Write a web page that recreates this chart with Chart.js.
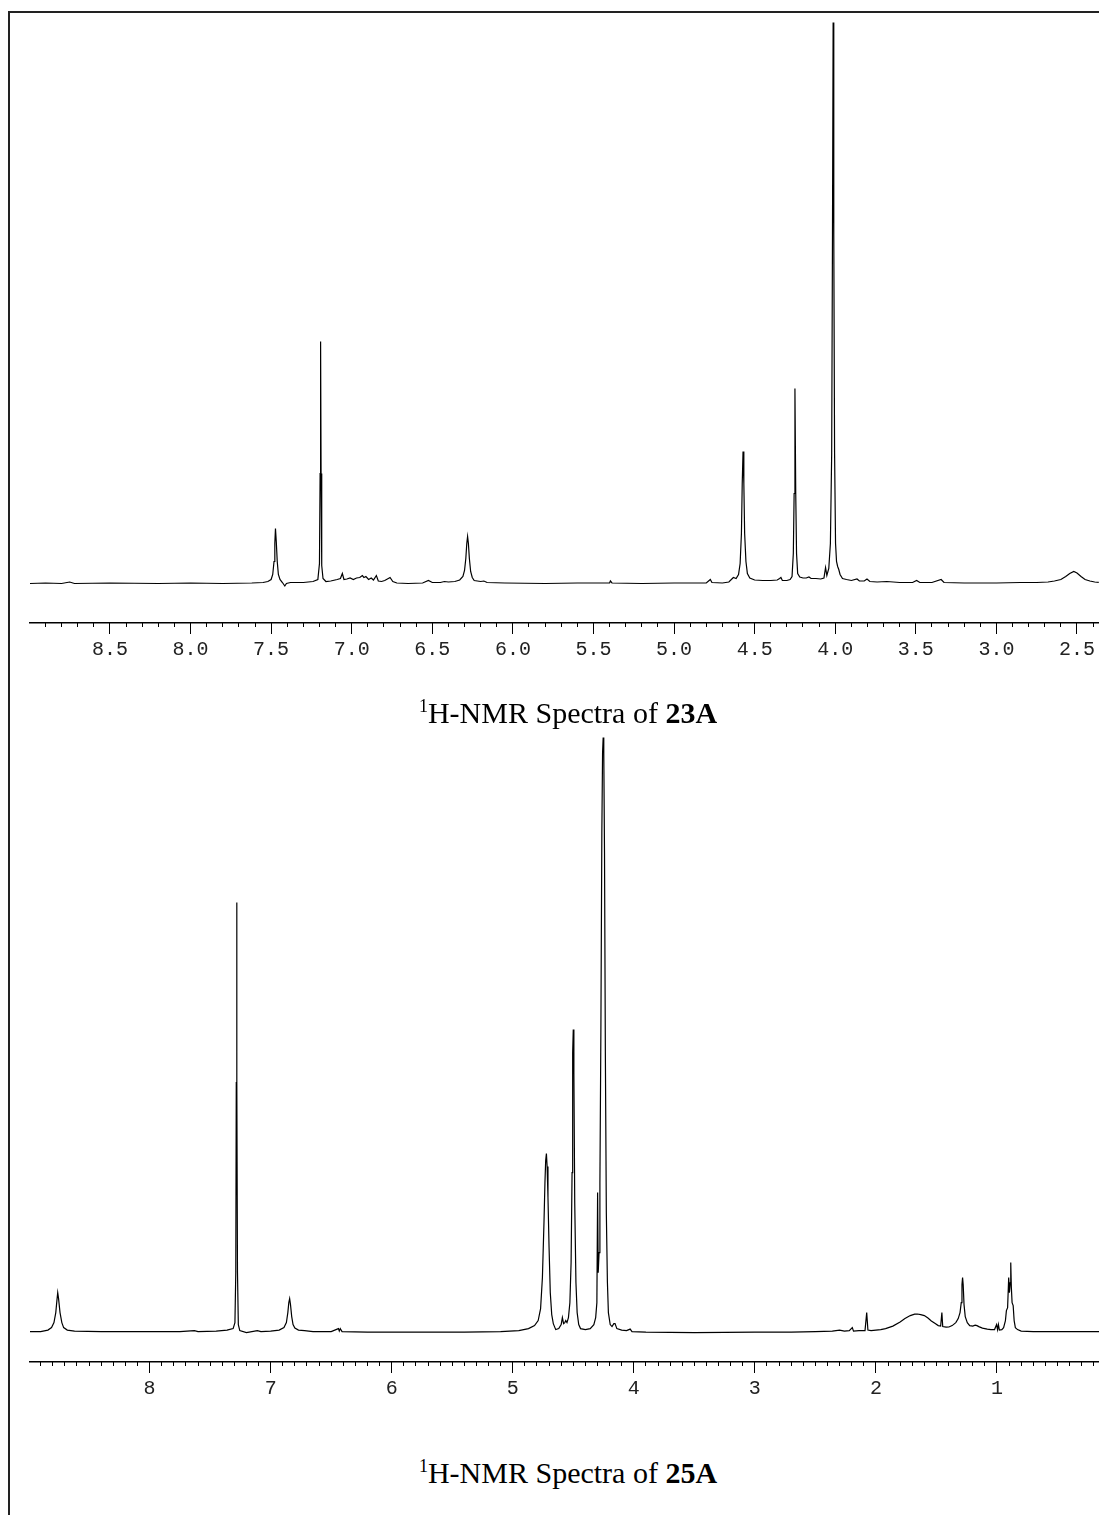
<!DOCTYPE html>
<html>
<head>
<meta charset="utf-8">
<script src="https://cdn.jsdelivr.net/npm/chart.js@4.4.1/dist/chart.umd.min.js"></script>
<style>
  html, body { margin: 0; padding: 0; background: #fff; }
  body { width: 1099px; height: 1515px; position: relative; overflow: hidden; }
  .frame { position: absolute; left: 8px; top: 11px; width: 1200px; height: 1600px;
           border-left: 2px solid #222; border-top: 2px solid #222; }
  canvas { position: absolute; left: 0; }
  .title { position: absolute; left: 0; width: 1136px; text-align: center;
           font-family: "Liberation Serif", "Times New Roman", serif; font-size: 30px;
           line-height: 30px; color: #000; white-space: nowrap; }
  .title sup { font-size: 18px; line-height: 0; vertical-align: 11px; }
</style>
</head>
<body>
<div class="frame"></div>
<canvas id="spec1" width="1099" height="700" style="top:0"></canvas>
<canvas id="spec2" width="1099" height="705" style="top:725px"></canvas>
<div class="title" style="top:698px"><sup>1</sup>H-NMR Spectra of <b>23A</b></div>
<div class="title" style="top:1458px"><sup>1</sup>H-NMR Spectra of <b>25A</b></div>
<script>
// spectrum of 23A: chemical shift (ppm) / height above baseline
const spec1Shift = [9.00, 8.90, 8.80, 8.75, 8.72, 8.50, 8.20, 8.00, 7.80, 7.62, 7.55, 7.52, 7.50, 7.49, 7.482, 7.477, 7.473, 7.468, 7.462, 7.455, 7.445, 7.43, 7.415, 7.405, 7.38, 7.30, 7.24, 7.21, 7.200, 7.196, 7.193, 7.190, 7.186, 7.178, 7.16, 7.13, 7.09, 7.07, 7.058, 7.048, 7.03, 7.01, 6.99, 6.97, 6.95, 6.934, 6.924, 6.912, 6.895, 6.879, 6.865, 6.847, 6.835, 6.815, 6.795, 6.762, 6.745, 6.72, 6.65, 6.56, 6.524, 6.50, 6.45, 6.425, 6.40, 6.36, 6.33, 6.31, 6.300, 6.292, 6.286, 6.281, 6.276, 6.270, 6.262, 6.252, 6.24, 6.20, 6.18, 6.16, 6.05, 5.80, 5.60, 5.40, 5.395, 5.385, 5.20, 5.00, 4.80, 4.775, 4.765, 4.70, 4.66, 4.632, 4.615, 4.600, 4.590, 4.582, 4.577, 4.572, 4.567, 4.562, 4.554, 4.545, 4.53, 4.50, 4.45, 4.40, 4.36, 4.345, 4.337, 4.328, 4.30, 4.28, 4.268, 4.260, 4.255, 4.250, 4.245, 4.240, 4.233, 4.22, 4.20, 4.18, 4.163, 4.15, 4.12, 4.09, 4.07, 4.060, 4.052, 4.040, 4.030, 4.022, 4.017, 4.013, 4.009, 4.004, 3.998, 3.992, 3.985, 3.978, 3.970, 3.955, 3.93, 3.90, 3.865, 3.85, 3.82, 3.803, 3.785, 3.74, 3.68, 3.60, 3.52, 3.495, 3.475, 3.40, 3.343, 3.325, 3.20, 3.00, 2.85, 2.75, 2.68, 2.64, 2.60, 2.57, 2.545, 2.52, 2.50, 2.475, 2.45, 2.42, 2.39, 2.36];
const spec1Height = [0, 0.5, 0, 1.5, 0, 0.5, 0, 0.5, 0, 0.5, 1, 2, 4, 9, 22, 40, 55, 42, 22, 9, 4, 1, -2.5, 0, 1, 1, 2, 4, 20, 110, 242, 110, 18, 5, 2, 2.5, 4, 5, 10, 4, 4.5, 5.5, 4, 5.5, 6, 8, 6, 7, 4, 5.5, 3.5, 8, 2.5, 2, 3, 6, 2, 0.5, 0, 0.5, 3, 1, 1, 2, 1.5, 2, 3.5, 7, 13, 25, 40, 47, 40, 25, 12, 6, 3, 2, 2.5, 1, 0.5, 0, 0.5, 0.5, 2.5, 0.5, 0, 0.5, 0.5, 4, 1, 0.5, 1.5, 6, 5, 9, 20, 50, 100, 132, 100, 50, 22, 10, 5.5, 3.5, 3, 3, 3.5, 5, 6, 3, 3, 4, 7, 30, 90, 195, 90, 30, 10, 6.5, 5.5, 5.5, 6.5, 5, 5, 4.5, 5.5, 16, 8, 15, 40, 130, 350, 561, 350, 130, 40, 22, 17, 14, 9, 5, 4, 3, 4.5, 2.5, 2.5, 4.5, 2, 1.5, 2, 1, 1, 3, 1, 1, 4, 1, 0.5, 0.5, 1, 1, 1.5, 2.5, 4, 7, 10, 12, 10.5, 7, 4, 2.5, 1.5, 1];
const spec1Labels = [8.5, 8.0, 7.5, 7.0, 6.5, 6.0, 5.5, 5.0, 4.5, 4.0, 3.5, 3.0, 2.5];

// spectrum of 25A
const spec2Shift = [9.00, 8.90, 8.84, 8.81, 8.79, 8.775, 8.765, 8.759, 8.752, 8.74, 8.725, 8.71, 8.68, 8.62, 8.40, 8.00, 7.75, 7.63, 7.60, 7.45, 7.36, 7.31, 7.295, 7.288, 7.284, 7.281, 7.278, 7.274, 7.267, 7.255, 7.20, 7.11, 7.08, 7.00, 6.93, 6.89, 6.87, 6.858, 6.850, 6.843, 6.836, 6.826, 6.815, 6.80, 6.77, 6.72, 6.65, 6.50, 6.44, 6.433, 6.425, 6.41, 6.20, 5.80, 5.40, 5.10, 4.95, 4.87, 4.82, 4.79, 4.77, 4.755, 4.742, 4.734, 4.728, 4.722, 4.716, 4.709, 4.700, 4.690, 4.678, 4.665, 4.645, 4.62, 4.60, 4.590, 4.580, 4.570, 4.562, 4.552, 4.540, 4.528, 4.518, 4.510, 4.505, 4.500, 4.495, 4.488, 4.478, 4.468, 4.455, 4.44, 4.40, 4.36, 4.33, 4.315, 4.305, 4.299, 4.294, 4.287, 4.280, 4.272, 4.264, 4.258, 4.253, 4.248, 4.242, 4.235, 4.227, 4.218, 4.210, 4.195, 4.180, 4.165, 4.155, 4.14, 4.10, 4.060, 4.030, 4.015, 3.90, 3.50, 3.00, 2.70, 2.50, 2.36, 2.30, 2.26, 2.220, 2.195, 2.185, 2.14, 2.09, 2.076, 2.066, 2.04, 2.00, 1.96, 1.92, 1.86, 1.80, 1.76, 1.716, 1.68, 1.658, 1.63, 1.60, 1.57, 1.542, 1.51, 1.485, 1.465, 1.455, 1.448, 1.42, 1.397, 1.37, 1.34, 1.32, 1.305, 1.295, 1.289, 1.284, 1.279, 1.272, 1.262, 1.245, 1.225, 1.20, 1.18, 1.165, 1.15, 1.12, 1.08, 1.05, 1.02, 1.003, 0.995, 0.988, 0.980, 0.960, 0.945, 0.930, 0.922, 0.912, 0.903, 0.897, 0.890, 0.886, 0.881, 0.875, 0.866, 0.858, 0.848, 0.83, 0.80, 0.70, 0.50, 0.30, 0.15];
const spec2Height = [1, 1, 2.5, 5, 10, 20, 33, 40, 34, 20, 10, 5, 2.5, 1.5, 1, 1, 1, 2, 1, 1.5, 2.5, 4, 10, 60, 250, 430, 250, 60, 8, 2, 0, 2, 1, 1.5, 2.5, 5, 10, 20, 30, 34, 28, 16, 8, 4.5, 2.5, 2, 1, 1, 4, 1.5, 4, 1, 0.5, 0.5, 0.5, 1, 2, 4, 7, 12, 24, 55, 110, 150, 172, 179, 166, 135, 85, 40, 18, 9, 3, 4, 8, 15, 9, 10, 12, 10, 15, 30, 70, 160, 280, 303, 260, 130, 50, 20, 8, 4, 3, 4, 8, 15, 30, 140, 60, 80, 150, 300, 500, 580, 595, 580, 480, 280, 120, 50, 20, 8, 6, 9, 9, 4, 2.5, 2, 3.5, 1, 0.5, 0, 0.5, 0.5, 1, 1.5, 2.5, 1.5, 2, 5, 1.5, 2, 2, 20, 2.5, 2, 2.5, 3, 4, 6.5, 10.5, 14, 17, 18.5, 18.6, 18, 17, 14.5, 11.6, 9, 7, 6.5, 20, 6, 5.5, 5.6, 7, 10, 14, 20, 30, 48, 55, 48, 28, 16, 10, 7, 6.5, 7.5, 7, 6, 4.5, 3.5, 3, 3, 8, 3, 8, 2.5, 3, 5, 12, 22, 25, 55, 40, 50, 70, 45, 30, 27, 12, 5, 3, 1.5, 1, 1, 1, 1];
const spec2Labels = [8, 7, 6, 5, 4, 3, 2, 1];

function makeSpectrum(id, shifts, heights, labels, o) {
  const minor = [];
  for (let v = o.minorFrom; v >= o.minorTo - 1e-6; v -= o.minorStep) minor.push(Math.round(v * 100) / 100);

  new Chart(document.getElementById(id), {
    type: 'line',
    data: {
      datasets: [{
        data: shifts.map((x, i) => ({ x: x, y: heights[i] })),
        borderColor: '#000',
        borderWidth: 1.2,
        pointRadius: 0,
        tension: 0,
        fill: false
      }]
    },
    options: {
      responsive: false,
      animation: false,
      devicePixelRatio: 1,
      layout: { padding: { top: o.padTop, left: 30, right: 0, bottom: 0 } },
      plugins: { legend: { display: false }, tooltip: { enabled: false } },
      scales: {
        x: {
          type: 'linear', reverse: true, min: o.xMin, max: o.xMax,
          position: 'bottom', weight: 1,
          afterBuildTicks: s => { s.ticks = labels.map(v => ({ value: v })); },
          afterFit: s => { s.height = o.axisH; },
          grid: { drawOnChartArea: false, tickLength: 11, tickColor: '#000', tickWidth: 1 },
          border: { display: true, color: '#000', width: 1.5 },
          ticks: {
            autoSkip: false, maxRotation: 0, padding: 4, color: '#222',
            font: { family: '"Liberation Mono", "Courier New", monospace', size: 20 },
            callback: v => o.fmt(v)
          }
        },
        xMinor: {
          type: 'linear', reverse: true, min: o.xMin, max: o.xMax,
          position: 'bottom', weight: 0,
          afterBuildTicks: s => { s.ticks = minor.map(v => ({ value: v })); },
          afterFit: s => { s.height = 0; },
          grid: { drawOnChartArea: false, tickLength: 4, tickColor: '#000', tickWidth: 1 },
          border: { display: false },
          ticks: { display: false }
        },
        y: { display: false, min: o.yMin, max: o.yMax }
      }
    }
  });
}

makeSpectrum('spec1', spec1Shift, spec1Height, spec1Labels, {
  xMin: 2.365, xMax: 8.996, yMin: -39.5, yMax: 568.5,
  padTop: 15, axisH: 77, minorFrom: 8.9, minorTo: 2.4, minorStep: 0.1,
  fmt: v => v.toFixed(1)
});

makeSpectrum('spec2', spec2Shift, spec2Height, spec2Labels, {
  xMin: 0.157, xMax: 8.988, yMin: -29.4, yMax: 602.6,
  padTop: 5, axisH: 68, minorFrom: 8.9, minorTo: 0.2, minorStep: 0.1,
  fmt: v => String(Math.round(v))
});
</script>
</body>
</html>
